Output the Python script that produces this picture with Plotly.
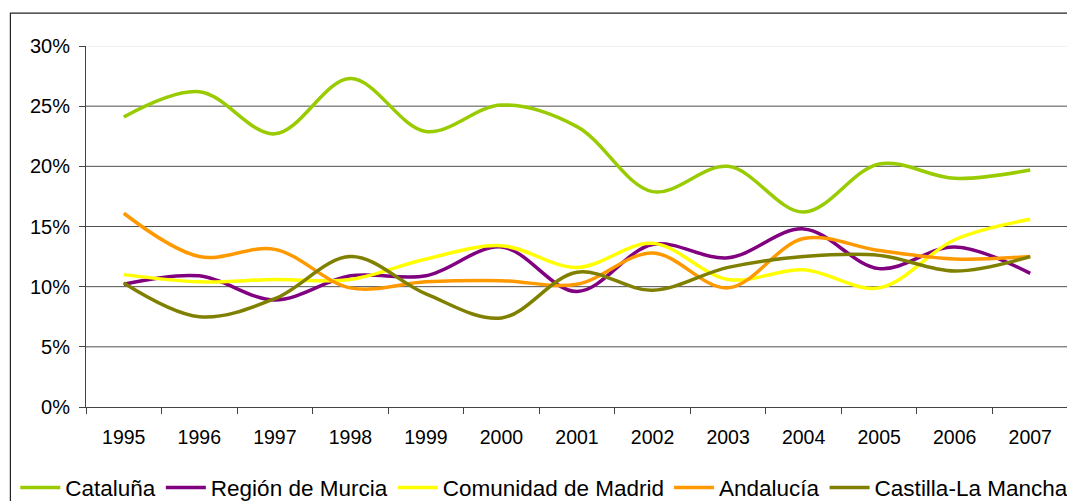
import plotly.graph_objects as go

years = ["1995", "1996", "1997", "1998", "1999", "2000", "2001",
         "2002", "2003", "2004", "2005", "2006", "2007"]

cataluna = [24.1, 26.2, 22.7, 27.3, 22.9, 25.1, 23.3, 17.9, 20.0, 16.2, 20.2, 19.0, 19.7]
murcia = [10.2, 10.9, 8.9, 10.9, 10.9, 13.3, 9.6, 13.5, 12.4, 14.8, 11.5, 13.3, 11.1]
madrid = [11.0, 10.4, 10.6, 10.6, 12.3, 13.4, 11.6, 13.6, 10.6, 11.4, 9.9, 13.9, 15.6]
andalucia = [16.1, 12.5, 13.1, 9.9, 10.4, 10.5, 10.2, 12.8, 9.9, 14.0, 13.0, 12.3, 12.5]
castilla = [10.3, 7.5, 9.0, 12.5, 9.4, 7.4, 11.2, 9.7, 11.6, 12.5, 12.6, 11.3, 12.5]

series_names = ["Cataluña", "Región de Murcia", "Comunidad de Madrid", "Andalucía", "Castilla-La Mancha"]
series_values = [cataluna, murcia, madrid, andalucia, castilla]
series_colors = ["#99CC00", "#800080", "#FFFF00", "#FF9900", "#808000"]

y_ticks = [0, 5, 10, 15, 20, 25, 30]
y_tick_labels = ["0%", "5%", "10%", "15%", "20%", "25%", "30%"]

FONT = "Liberation Sans, Arial, sans-serif"

fig = go.Figure()
for name, vals, col in zip(series_names, series_values, series_colors):
    fig.add_trace(go.Scatter(
        x=years, y=vals, name=name, mode="lines",
        line=dict(color=col, width=3.5, shape="spline", smoothing=1.0),
    ))

shapes = []
for v in y_ticks[1:-1]:
    shapes.append(dict(type="line", xref="paper", yref="y", x0=0, x1=1, y0=v, y1=v,
                       line=dict(color="#505050", width=1), layer="below"))
shapes.append(dict(type="line", xref="paper", yref="y", x0=0, x1=1, y0=y_ticks[-1], y1=y_ticks[-1],
                   line=dict(color="#e6e6e6", width=1), layer="below"))
# outer chart frame
shapes.append(dict(type="rect", xref="paper", yref="paper", x0=-0.077, x1=1.05, y0=-0.5, y1=1.091,
                   line=dict(color="#222222", width=1.2), fillcolor="rgba(0,0,0,0)", layer="below"))

fig.update_layout(
    width=1075, height=501,
    margin=dict(l=78, r=15, t=38, b=102, autoexpand=False),
    paper_bgcolor="white", plot_bgcolor="white",
    font=dict(family=FONT, color="black", size=19),
    showlegend=True,
    legend=dict(orientation="h", x=-0.072, xanchor="left", y=-0.224, yanchor="middle",
                font=dict(family=FONT, size=22.5, color="black"),
                itemwidth=40, tracegroupgap=0, bgcolor="rgba(0,0,0,0)"),
    shapes=shapes,
    xaxis=dict(type="category", categoryorder="array", categoryarray=years,
               range=[-0.5, len(years) - 0.5],
               showgrid=False, showline=True, linecolor="#444444", linewidth=1,
               ticks="outside", tickson="boundaries", ticklen=6, tickcolor="#444444",
               tickfont=dict(family=FONT, size=19.5, color="black"),
               ticklabelstandoff=13, zeroline=False, fixedrange=True),
    yaxis=dict(range=[0, 30], tickvals=y_ticks, ticktext=y_tick_labels,
               showgrid=False, showline=True, linecolor="#444444", linewidth=1,
               ticks="outside", ticklen=6, tickcolor="#444444",
               tickfont=dict(family=FONT, size=20, color="black"),
               ticklabelstandoff=5, zeroline=False, fixedrange=True),
)

fig.write_html("out.html")
